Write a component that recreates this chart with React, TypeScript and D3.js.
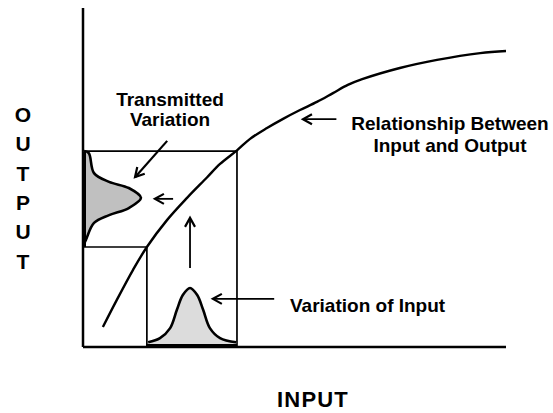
import React from "react";
import * as d3 from "d3";

// relationship curve (input, output) in axis units 0..10
const curveX = [0.47, 0.8, 1.18, 1.51, 1.99, 2.46, 2.93, 3.24, 3.64, 3.95, 4.35, 4.73, 5.13, 5.53, 5.91, 6.26, 6.6, 7.49, 8.37, 9.39, 10.0];
const curveY = [0.59, 1.39, 2.27, 2.95, 3.75, 4.4, 5.0, 5.4, 5.8, 6.14, 6.46, 6.73, 6.99, 7.23, 7.49, 7.73, 7.9, 8.23, 8.47, 8.67, 8.73];

// input spread (bottom hump)
const inputX = [1.54, 1.82, 2.06, 2.22, 2.36, 2.53, 2.7, 2.84, 3.0, 3.24, 3.62];
const inputDensity = [0.08, 0.15, 0.32, 0.63, 0.88, 1, 0.88, 0.63, 0.32, 0.15, 0.08];

// transmitted spread (left hump)
const outputY = [5.78, 5.72, 5.13, 4.87, 4.69, 4.4, 4.1, 3.89, 3.66, 3.16, 2.98];
const outputDensity = [0.02, 0.1, 0.19, 0.45, 0.79, 1, 0.79, 0.45, 0.19, 0.05, 0];

// the two windows (input range and output range)
const inputLow = 1.51;
const inputHigh = 3.64;
const outputLow = 2.95;
const outputHigh = 5.78;

// annotation arrows [x1, y1, x2, y2] in axis units, head at the end
const arrows = [
  [1.99, 6.08, 1.23, 5.01],
  [2.13, 4.37, 1.7, 4.37],
  [2.53, 2.33, 2.53, 3.81],
  [4.52, 1.42, 3.07, 1.42],
  [5.99, 6.72, 5.2, 6.72],
];

const width = 553;
const height = 413;
const font = "Arial, 'Liberation Sans', sans-serif";

export default function App() {
  const x = d3.scaleLinear().domain([0, 10]).range([83, 506]);
  const y = d3.scaleLinear().domain([0, 10]).range([347, 8]);
  const hump = d3.scaleLinear().domain([0, 1]).range([0, 59]);
  const side = d3.scaleLinear().domain([0, 1]).range([0, 58]);

  const curve = d3
    .line<number>()
    .x((d) => x(d))
    .y((_, i) => y(curveY[i]))
    .curve(d3.curveCatmullRom.alpha(0.5))(curveX);

  const inArea = d3
    .area<number>()
    .x((d) => x(d))
    .y0(y(0))
    .y1((_, i) => y(0) - hump(inputDensity[i]))
    .curve(d3.curveCatmullRom)(inputX);
  const inLine = d3
    .line<number>()
    .x((d) => x(d))
    .y((_, i) => y(0) - hump(inputDensity[i]))
    .curve(d3.curveCatmullRom)(inputX);

  const outArea = d3
    .area<number>()
    .y((d) => y(d))
    .x0(x(0))
    .x1((_, i) => x(0) + side(outputDensity[i]))
    .curve(d3.curveCatmullRom)(outputY);
  const outLine = d3
    .line<number>()
    .y((d) => y(d))
    .x((_, i) => x(0) + side(outputDensity[i]))
    .curve(d3.curveCatmullRom)(outputY);

  const letters = "OUTPUT".split("");

  return (
    <svg width={width} height={height} style={{ position: "absolute", left: 0, top: 0, background: "#fff" }}>
      <defs>
        <marker id="head" markerUnits="userSpaceOnUse" viewBox="-12 -8 16 16" markerWidth={16} markerHeight={16} refX={0} refY={0} orient="auto">
          <path d="M-9,-5 L0,0 L-9,5" fill="none" stroke="#000" strokeWidth={2.2} />
        </marker>
      </defs>

      {/* axes */}
      <line x1={x(0)} x2={x(0)} y1={y(10)} y2={y(0)} stroke="#000" strokeWidth={2.5} />
      <line x1={x(0)} x2={x(10)} y1={y(0)} y2={y(0)} stroke="#000" strokeWidth={2.5} />

      {/* windows */}
      <path
        d={`M${x(0)},${y(outputHigh)}H${x(inputHigh)}V${y(0)}`}
        fill="none" stroke="#000" strokeWidth={1.7} />
      <path
        d={`M${x(0)},${y(outputLow)}H${x(inputLow)}V${y(0)}`}
        fill="none" stroke="#000" strokeWidth={1.7} />

      {/* spreads */}
      <path d={inArea ?? ""} fill="#dcdcdc" />
      <path d={inLine ?? ""} fill="none" stroke="#000" strokeWidth={2.6} />
      <line x1={x(inputLow)} x2={x(inputHigh)} y1={y(0) - 1.5} y2={y(0) - 1.5} stroke="#000" strokeWidth={3} />
      <path d={outArea ?? ""} fill="#c0c0c0" />
      <path d={outLine ?? ""} fill="none" stroke="#000" strokeWidth={2.6} />
      <line x1={x(0) + 1.5} x2={x(0) + 1.5} y1={y(outputHigh)} y2={y(outputLow)} stroke="#000" strokeWidth={3} />

      {/* relationship */}
      <path d={curve ?? ""} fill="none" stroke="#000" strokeWidth={2.4} />

      {arrows.map((a, i) => (
        <line key={i} x1={x(a[0])} y1={y(a[1])} x2={x(a[2])} y2={y(a[3])}
          stroke="#000" strokeWidth={i === 0 ? 2.2 : 1.8} markerEnd="url(#head)" />
      ))}

      <g fontFamily={font} fontWeight="bold" fill="#000">
        {letters.map((c, i) => (
          <text key={i} x={23} y={122 + i * 29.3} fontSize={21} textAnchor="middle">{c}</text>
        ))}
        <text x={313} y={407} fontSize={22} textAnchor="middle" letterSpacing={1.2}>INPUT</text>
        <text x={170} y={105.7} fontSize={19} textAnchor="middle">Transmitted</text>
        <text x={170} y={125.7} fontSize={19} textAnchor="middle">Variation</text>
        <text x={450} y={130} fontSize={19} textAnchor="middle">Relationship Between</text>
        <text x={450} y={152} fontSize={19} textAnchor="middle">Input and Output</text>
        <text x={290} y={312} fontSize={19}>Variation of Input</text>
      </g>
    </svg>
  );
}
